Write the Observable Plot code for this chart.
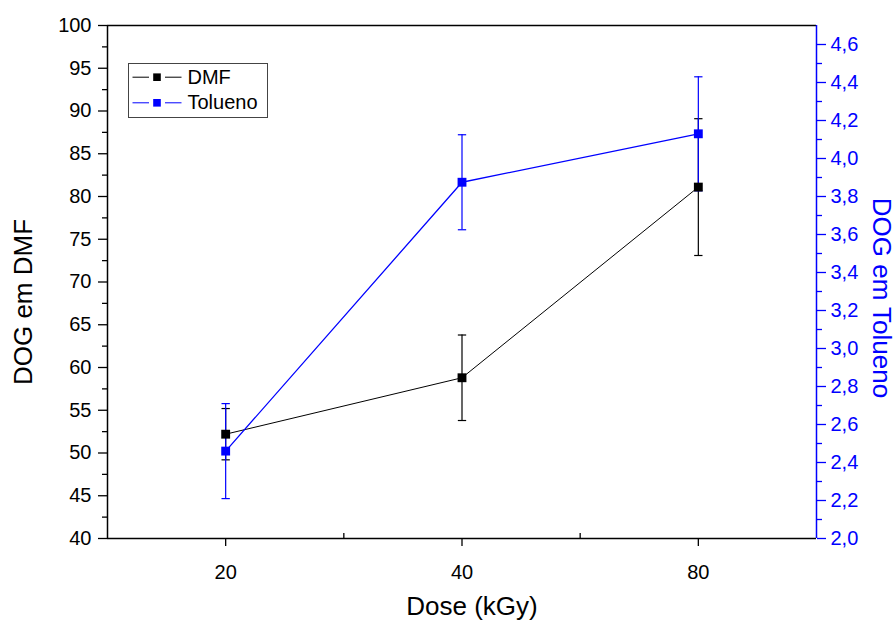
<!DOCTYPE html>
<html><head><meta charset="utf-8">
<script src="https://cdn.jsdelivr.net/npm/d3@7"></script>
<script src="https://cdn.jsdelivr.net/npm/@observablehq/plot@0.6"></script>
<style>html,body{margin:0;padding:0;background:#fff} #chart svg{display:block}</style>
</head><body><div id="chart"></div>
<script>
// ---- data ----
const doses = ["20", "40", "80"];
const dmf = [52.2, 58.8, 81.1];
const dmfErr = [3.0, 5.0, 8.0];
const tolueno = [2.46, 3.875, 4.13];
const toluenoErr = [0.25, 0.25, 0.30];
const leftTicks = [40, 45, 50, 55, 60, 65, 70, 75, 80, 85, 90, 95, 100];
const rightTicks = [2.0, 2.2, 2.4, 2.6, 2.8, 3.0, 3.2, 3.4, 3.6, 3.8, 4.0, 4.2, 4.4, 4.6];
const series = ["DMF", "Tolueno"];
const colors = ["#000000", "#0000ff"];
const titles = {x: "Dose (kGy)", left: "DOG em DMF", right: "DOG em Tolueno"};

// ---- scales ----
const leftDomain = [40, 100];
const rightDomain = [2.0, 4.7];
const xDomain = [0.5, 3.5];
const toLeft = v => leftDomain[0] + (v - rightDomain[0]) * (leftDomain[1] - leftDomain[0]) / (rightDomain[1] - rightDomain[0]);
const toRight = v => rightDomain[0] + (v - leftDomain[0]) * (rightDomain[1] - rightDomain[0]) / (leftDomain[1] - leftDomain[0]);

const rows = doses.map((d, i) => ({
  pos: i + 1, dose: d,
  dmf: dmf[i], dLo: dmf[i] - dmfErr[i], dHi: dmf[i] + dmfErr[i],
  tol: toLeft(tolueno[i]), tLo: toLeft(tolueno[i] - toluenoErr[i]), tHi: toLeft(tolueno[i] + toluenoErr[i])
}));
const positions = rows.map(r => r.pos);
const mids = a => a.slice(1).map((t, i) => (t + a[i]) / 2);
const leftMinor = mids(leftTicks);
const rightMinor = mids(rightTicks).map(toLeft);
const xMinor = mids(positions);

const black = colors[0], blue = colors[1];
const fontFamily = "'Liberation Sans', Arial, Helvetica, sans-serif";

const cap = {draw(ctx, size) { const w = Math.sqrt(size); ctx.moveTo(-w / 2, 0); ctx.lineTo(w / 2, 0); }};
const legendLine = {draw(ctx) { ctx.moveTo(-24.5, 0); ctx.lineTo(-8, 0); ctx.moveTo(8, 0); ctx.lineTo(24.5, 0); }};

const legendMarks = series.flatMap((s, i) => {
  const dy = 51.7 + i * 25.6;
  return [
    Plot.dot([s], {frameAnchor: "top-left", dx: 49.5, dy, symbol: legendLine, r: 1, stroke: colors[i], fill: "none", strokeWidth: 1}),
    Plot.dot([s], {frameAnchor: "top-left", dx: 49.5, dy, symbol: "square", r: 4.3, fill: colors[i], stroke: "none"}),
    Plot.text([s], {frameAnchor: "top-left", dx: 80, dy, text: d => d, textAnchor: "start", lineAnchor: "middle", fontSize: 20, fill: black})
  ];
});

const plot = Plot.plot({
  width: 896, height: 623,
  marginTop: 25, marginRight: 80, marginBottom: 85, marginLeft: 107,
  style: {fontFamily, background: "#fff", color: "#000", overflow: "visible"},
  x: {type: "linear", domain: xDomain, label: null},
  y: {domain: leftDomain, label: null},
  marks: [
    // frame
    Plot.ruleY([leftDomain[1]], {stroke: black, strokeWidth: 1.5}),
    Plot.ruleY([leftDomain[0]], {stroke: black, strokeWidth: 1.5}),
    Plot.ruleX([xDomain[0]], {stroke: black, strokeWidth: 1.5}),
    // left axis
    Plot.axisY(leftMinor, {anchor: "left", tickSize: 5, strokeWidth: 1.3, tickFormat: () => "", label: null}),
    Plot.axisY(leftTicks, {anchor: "left", tickSize: 9, tickPadding: 7, strokeWidth: 1.3, fontSize: 20, label: null}),
    // bottom axis
    Plot.axisX(positions, {anchor: "bottom", tickSize: 8, tickPadding: 18, strokeWidth: 1.3, fontSize: 20, tickFormat: d => doses[d - 1], label: null}),
    Plot.axisX(xMinor, {anchor: "bottom", tickSize: -5, strokeWidth: 1.3, tickFormat: () => "", label: null}),
    // right axis
    Plot.axisY(rightMinor, {anchor: "right", tickSize: 5, strokeWidth: 1.3, color: blue, tickFormat: () => "", label: null}),
    Plot.axisY(rightTicks.map(toLeft), {anchor: "right", tickSize: 9, tickPadding: 5, strokeWidth: 1.3, color: blue, fontSize: 20,
      tickFormat: d => toRight(d).toFixed(1).replace(".", ","), label: null}),
    Plot.ruleX([xDomain[1]], {stroke: blue, strokeWidth: 1.5}),
    // error bars
    Plot.ruleX(rows, {x: "pos", y1: "dLo", y2: "dHi", stroke: black, strokeWidth: 1.2}),
    Plot.dot(rows, {x: "pos", y: "dLo", symbol: cap, r: 4.7, stroke: black, fill: "none", strokeWidth: 1.2}),
    Plot.dot(rows, {x: "pos", y: "dHi", symbol: cap, r: 4.7, stroke: black, fill: "none", strokeWidth: 1.2}),
    Plot.ruleX(rows, {x: "pos", y1: "tLo", y2: "tHi", stroke: blue, strokeWidth: 1.2}),
    Plot.dot(rows, {x: "pos", y: "tLo", symbol: cap, r: 4.7, stroke: blue, fill: "none", strokeWidth: 1.2}),
    Plot.dot(rows, {x: "pos", y: "tHi", symbol: cap, r: 4.7, stroke: blue, fill: "none", strokeWidth: 1.2}),
    // lines
    Plot.line(rows, {x: "pos", y: "dmf", stroke: black, strokeWidth: 1}),
    Plot.line(rows, {x: "pos", y: "tol", stroke: blue, strokeWidth: 1.3}),
    // markers
    Plot.dot(rows, {x: "pos", y: "dmf", symbol: "square", r: 5, fill: black, stroke: "none"}),
    Plot.dot(rows, {x: "pos", y: "tol", symbol: "square", r: 5, fill: blue, stroke: "none"}),
    // legend
    Plot.frame({insetLeft: 21, insetTop: 38, insetRight: 549, insetBottom: 421, stroke: "#444", strokeWidth: 1}),
    ...legendMarks,
    // titles
    Plot.text([titles.left], {frameAnchor: "left", dx: -84, dy: 20, rotate: -90, fontSize: 26, text: d => d, textAnchor: "middle", lineAnchor: "middle", fill: black}),
    Plot.text([titles.right], {frameAnchor: "right", dx: 65, dy: 16, rotate: 90, fontSize: 26, text: d => d, textAnchor: "middle", lineAnchor: "middle", fill: blue}),
    Plot.text([titles.x], {frameAnchor: "bottom", dx: 10, dy: 68, fontSize: 26, text: d => d, textAnchor: "middle", lineAnchor: "middle", fill: black})
  ]
});
document.getElementById("chart").appendChild(plot);
</script>
</body></html>
